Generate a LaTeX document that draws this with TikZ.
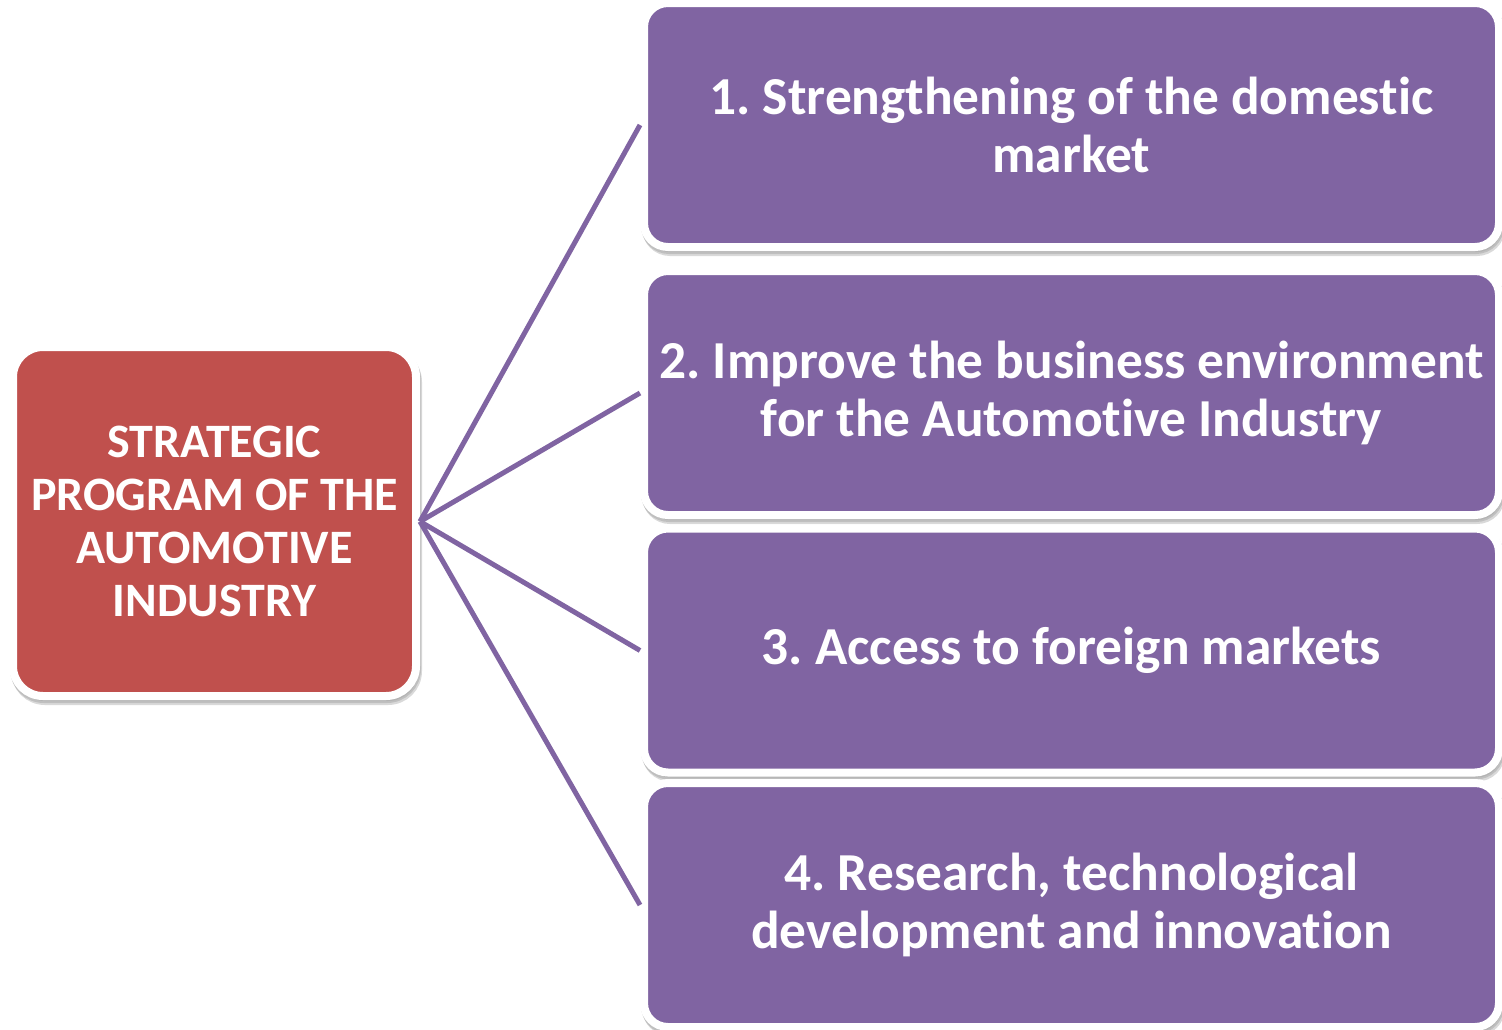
\documentclass[tikz,border=0pt]{standalone}
\usepackage{fontspec}
\setmainfont{Carlito}[Ligatures=NoCommon]
\usetikzlibrary{shadows}

\definecolor{programred}{HTML}{C0504D}
\definecolor{goalpurple}{HTML}{8064A2}

\begin{document}
\frenchspacing
\begin{tikzpicture}[x=1pt, y=-1pt,
		roundbox/.style={draw=white, line width=8pt, inner sep=0pt, text=white, align=center,
			drop shadow={opacity=0.12, shadow xshift=1pt, shadow yshift=-3pt, draw=black},
			drop shadow={opacity=0.15, shadow xshift=2pt, shadow yshift=-5pt, draw=black}},
		programbox/.style={roundbox, fill=programred, rounded corners=30pt,
			font=\bfseries\fontsize{48}{53}\selectfont},
		goalbox/.style={roundbox, fill=goalpurple, rounded corners=24pt,
			font=\bfseries\fontsize{53.4}{58}\selectfont},
		link/.style={goalpurple, line width=5pt}]

		\useasboundingbox (0,0) rectangle (1502,1029);

		\pgfmathsetmacro{\boxleft}{644}
		\pgfmathsetmacro{\boxwidth}{855}
		\pgfmathsetmacro{\boxheight}{244}

		% draw the program box
		\node[programbox, minimum width=403pt, minimum height=349pt] (program) at (214.5, 521.5)
			{STRATEGIC\\PROGRAM OF THE\\AUTOMOTIVE\\INDUSTRY};

		% draw the goal boxes
		\foreach \idx/\ypos/\txt in {
				1/125/{1. Strengthening of the domestic\\market},
				2/393/{2. Improve the business environment\\for the Automotive Industry},
				3/650.5/{3. Access to foreign markets},
				4/905/{4. Research, technological\\development and innovation}}
		{
			\node[goalbox, minimum width=\boxwidth pt, minimum height=\boxheight pt] (goal\idx)
				at (\boxleft + \boxwidth / 2, \ypos) {\txt};
		}

		% connect the program to each goal
		\foreach \idx in {1, ..., 4}
		{
			\draw[link] (program.east) -- (goal\idx.west);
		}
	\end{tikzpicture}
\end{document}
